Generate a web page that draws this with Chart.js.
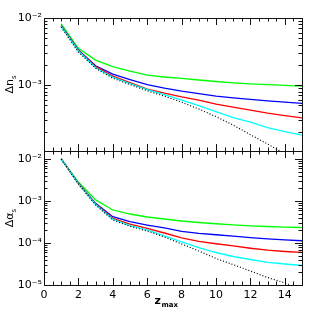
<!DOCTYPE html>
<html lang="en">
<head>
    <meta charset="UTF-8">
    <title>Delta n_s and Delta alpha_s vs z_max</title>
    <script src="https://cdn.jsdelivr.net/npm/chart.js"></script>
    <style>
        body {
            margin: 0;
            background: #fff;
        }
        .wrap {
            position: relative;
            width: 319px;
            height: 319px;
        }
        canvas {
            position: absolute;
            left: 0;
            top: 0;
        }
    </style>
</head>
<body>
    <div class="wrap">
        <canvas id="topChart" width="319" height="319"></canvas>
        <canvas id="bottomChart" width="319" height="319"></canvas>
    </div>

    <script>
        // z_max values where the curves are evaluated
        const zValues = [1, 2, 3, 4, 5, 6, 7, 8, 9, 10, 11, 12, 13, 14, 15];

        // top panel: delta n_s
        const dnGreen = [8.14e-3, 3.53e-3, 2.36e-3, 1.88e-3, 1.62e-3, 1.41e-3, 1.32e-3, 1.26e-3, 1.19e-3, 1.13e-3, 1.08e-3, 1.045e-3, 1.014e-3, 9.9e-4, 9.66e-4];
        const dnBlue = [7.73e-3, 3.33e-3, 1.94e-3, 1.46e-3, 1.21e-3, 1.017e-3, 9.02e-4, 8.13e-4, 7.46e-4, 6.85e-4, 6.44e-4, 6.12e-4, 5.83e-4, 5.57e-4, 5.33e-4];
        const dnRed = [7.6e-3, 3.27e-3, 1.88e-3, 1.36e-3, 1.09e-3, 8.71e-4, 7.6e-4, 6.69e-4, 5.97e-4, 5.2e-4, 4.7e-4, 4.24e-4, 3.82e-4, 3.51e-4, 3.25e-4];
        const dnCyan = [7.47e-3, 3.22e-3, 1.81e-3, 1.30e-3, 1.05e-3, 8.57e-4, 7.22e-4, 5.97e-4, 4.94e-4, 4.02e-4, 3.27e-4, 2.8e-4, 2.32e-4, 2.02e-4, 1.79e-4];
        const dnDotted = [7.34e-3, 3.11e-3, 1.78e-3, 1.26e-3, 1.02e-3, 8.22e-4, 6.85e-4, 5.57e-4, 4.39e-4, 3.39e-4, 2.53e-4, 1.82e-4, 1.32e-4, 9.5e-5, 6.9e-5];

        // bottom panel: delta alpha_s
        const daGreen = [1.0e-2, 2.83e-3, 1.06e-3, 6.1e-4, 4.9e-4, 4.16e-4, 3.73e-4, 3.34e-4, 3.08e-4, 2.87e-4, 2.71e-4, 2.57e-4, 2.47e-4, 2.40e-4, 2.34e-4];
        const daBlue = [1.0e-2, 2.64e-3, 8.8e-4, 4.23e-4, 3.21e-4, 2.68e-4, 2.28e-4, 1.9e-4, 1.7e-4, 1.57e-4, 1.45e-4, 1.35e-4, 1.26e-4, 1.19e-4, 1.13e-4];
        const daRed = [1.0e-2, 2.61e-3, 8.5e-4, 3.87e-4, 2.83e-4, 2.24e-4, 1.73e-4, 1.32e-4, 1.09e-4, 9.6e-5, 8.5e-5, 7.5e-5, 6.74e-5, 6.28e-5, 5.95e-5];
        const daCyan = [1.0e-2, 2.58e-3, 8.26e-4, 3.67e-4, 2.58e-4, 2.04e-4, 1.47e-4, 1.06e-4, 7.8e-5, 5.94e-5, 4.77e-5, 4.05e-5, 3.47e-5, 3.16e-5, 2.91e-5];
        const daDotted = [1.0e-2, 2.54e-3, 8.03e-4, 3.53e-4, 2.5e-4, 1.93e-4, 1.39e-4, 9.47e-5, 6.45e-5, 4.28e-5, 3.05e-5, 2.15e-5, 1.51e-5, 1.12e-5, 7.6e-6];

        const xTickValues = [0, 2, 4, 6, 8, 10, 12, 14];
        const xMinorStep = 0.5;
        const xMajorStep = 2;

        const FONT = 'DejaVu Sans';
        const sup = { '-': '\u207B', '0': '\u2070', '1': '\u00B9', '2': '\u00B2', '3': '\u00B3', '4': '\u2074', '5': '\u2075', '6': '\u2076' };

        function decadeLabel(v) {
            const e = Math.log10(v);
            if (Math.abs(e - Math.round(e)) > 1e-6) return '';
            return '10' + String(Math.round(e)).split('').map(c => sup[c]).join('');
        }

        function makeDatasets(dotted, cyan, red, blue, green) {
            const pts = arr => arr.map((v, i) => ({ x: zValues[i], y: v }));
            const base = { pointRadius: 0, borderWidth: 1.3, tension: 0, fill: false };
            // first dataset is drawn on top
            return [
                { ...base, data: pts(dotted), borderColor: '#000', borderDash: [1, 2], borderWidth: 1.2 },
                { ...base, data: pts(cyan), borderColor: '#00ffff' },
                { ...base, data: pts(red), borderColor: '#ff0000' },
                { ...base, data: pts(blue), borderColor: '#0000ff' },
                { ...base, data: pts(green), borderColor: '#00ff00' }
            ];
        }

        // box around the plot with inward ticks on all four sides
        const frameTicks = {
            id: 'frameTicks',
            afterDatasetsDraw(chart) {
                const { ctx, chartArea: a, scales: { x, y } } = chart;
                ctx.save();
                ctx.strokeStyle = '#111';
                ctx.lineWidth = 1;
                ctx.beginPath();
                for (let v = x.min; v <= x.max + 1e-9; v += xMinorStep) {
                    const px = Math.round(x.getPixelForValue(v)) + 0.5;
                    const len = Math.abs(v % xMajorStep) < 1e-9 ? 7 : 3.5;
                    ctx.moveTo(px, a.bottom); ctx.lineTo(px, a.bottom - len);
                    ctx.moveTo(px, a.top); ctx.lineTo(px, a.top + len);
                }
                const e0 = Math.floor(Math.log10(y.min)), e1 = Math.ceil(Math.log10(y.max));
                for (let e = e0; e <= e1; e++) {
                    for (let m = 1; m <= 9; m++) {
                        const v = m * Math.pow(10, e);
                        if (v < y.min * 0.999 || v > y.max * 1.001) continue;
                        const py = Math.round(y.getPixelForValue(v)) + 0.5;
                        const len = m === 1 ? 7 : 3.5;
                        ctx.moveTo(a.left, py); ctx.lineTo(a.left + len, py);
                        ctx.moveTo(a.right, py); ctx.lineTo(a.right - len, py);
                    }
                }
                ctx.stroke();
                ctx.strokeRect(Math.round(a.left) + 0.5, Math.round(a.top) + 0.5,
                    Math.round(a.right - a.left), Math.round(a.bottom - a.top));
                ctx.restore();
            }
        };

        // axis titles with subscripts
        const titles = {
            id: 'titles',
            afterDraw(chart, args, opts) {
                const { ctx, chartArea: a } = chart;
                ctx.save();
                ctx.fillStyle = '#000';
                ctx.textBaseline = 'alphabetic';
                // y title, rotated
                ctx.translate(13, (a.top + a.bottom) / 2);
                ctx.rotate(-Math.PI / 2);
                ctx.font = '11px ' + FONT;
                const w1 = ctx.measureText(opts.yMain).width;
                ctx.font = '7px ' + FONT;
                const w2 = ctx.measureText(opts.ySub).width;
                const sx = -(w1 + w2) / 2;
                ctx.font = '11px ' + FONT;
                ctx.fillText(opts.yMain, sx, 0);
                ctx.font = '7px ' + FONT;
                ctx.fillText(opts.ySub, sx + w1, 2.5);
                ctx.restore();

                if (opts.xMain) {
                    ctx.save();
                    ctx.fillStyle = '#000';
                    ctx.font = 'bold 11px ' + FONT;
                    const m1 = ctx.measureText(opts.xMain).width;
                    ctx.font = 'bold 7px ' + FONT;
                    const m2 = ctx.measureText(opts.xSub).width;
                    const cx = (a.left + a.right) / 2 - 7 - (m1 + m2) / 2;
                    ctx.font = 'bold 11px ' + FONT;
                    ctx.fillText(opts.xMain, cx, 304);
                    ctx.font = 'bold 7px ' + FONT;
                    ctx.fillText(opts.xSub, cx + m1 + 0.5, 307);
                    ctx.restore();
                }
            }
        };

        function yScale(min, max) {
            return {
                type: 'logarithmic',
                min: min,
                max: max,
                afterFit: s => { s.width = 44; },
                grid: { display: false, drawTicks: false },
                border: { display: false },
                ticks: {
                    autoSkip: false,
                    padding: 2,
                    color: '#000',
                    font: { family: FONT, size: 11 },
                    callback: v => decadeLabel(v)
                }
            };
        }

        new Chart(document.getElementById('topChart'), {
            type: 'line',
            data: { datasets: makeDatasets(dnDotted, dnCyan, dnRed, dnBlue, dnGreen) },
            options: {
                responsive: false,
                animation: false,
                devicePixelRatio: 1,
                layout: { padding: { top: 18, right: 17, bottom: 168, left: 0 } },
                scales: {
                    x: { type: 'linear', min: 0, max: 15, display: false },
                    y: yScale(1.04e-4, 1e-2)
                },
                plugins: {
                    legend: { display: false },
                    tooltip: { enabled: false },
                    titles: { yMain: '\u0394n', ySub: 's' }
                }
            },
            plugins: [frameTicks, titles]
        });

        new Chart(document.getElementById('bottomChart'), {
            type: 'line',
            data: { datasets: makeDatasets(daDotted, daCyan, daRed, daBlue, daGreen) },
            options: {
                responsive: false,
                animation: false,
                devicePixelRatio: 1,
                layout: { padding: { top: 151, right: 17, bottom: 0, left: 0 } },
                scales: {
                    x: {
                        type: 'linear',
                        min: 0,
                        max: 15,
                        afterBuildTicks: s => { s.ticks = xTickValues.map(v => ({ value: v })); },
                        afterFit: s => { s.height = 34; },
                        grid: { display: false, drawTicks: false },
                        border: { display: false },
                        ticks: {
                            autoSkip: false,
                            maxRotation: 0,
                            padding: 4,
                            color: '#000',
                            font: { family: FONT, size: 11 }
                        }
                    },
                    y: yScale(1e-5, 1.55e-2)
                },
                plugins: {
                    legend: { display: false },
                    tooltip: { enabled: false },
                    titles: { yMain: '\u0394\u03B1', ySub: 's', xMain: 'z', xSub: 'max' }
                }
            },
            plugins: [frameTicks, titles]
        });
    </script>
</body>
</html>
